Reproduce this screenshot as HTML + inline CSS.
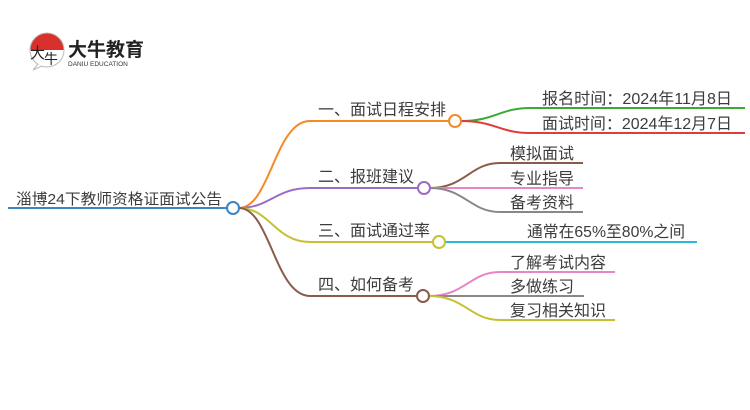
<!DOCTYPE html>
<html><head><meta charset="utf-8"><style>
html,body{margin:0;padding:0;background:#fff;width:750px;height:410px;overflow:hidden}
svg text{font-family:"Liberation Sans","Noto Sans CJK SC",sans-serif;font-size:16px;fill:#3c3c3c}
</style></head><body>
<svg width="750" height="410" viewBox="0 0 750 410" xmlns="http://www.w3.org/2000/svg">
<g>
<path d="M30 50 A17 17 0 0 1 64 50 Z" fill="#d9302c"/>
<circle cx="47" cy="50" r="17" fill="none" stroke="#bbb" stroke-width="1"/>
<path d="M38 64 L33 70 L42 66" fill="#fff" stroke="#bbb" stroke-width="1"/>
<text x="30" y="58" style="font-size:15px;fill:#222">大</text>
<text x="44" y="64" style="font-size:14px;fill:#222">牛</text>
<text x="68" y="56" style="font-size:19px;font-weight:bold;fill:#222">大牛教育</text>
<text x="68" y="66" style="font-size:6.5px;fill:#333">DANIU EDUCATION</text>
</g>
<g fill="none" stroke-width="2">
<path d="M8 208 L227 208" stroke="#3a86c4"/>
<path d="M239 208 C270 208 275 121 310 121 L449 121" stroke="#f58a24"/>
<path d="M461 121 C495 121 500 108 530 108 L745 108" stroke="#3aaa35"/>
<path d="M461 121 C495 121 500 133 530 133 L745 133" stroke="#e03c3c"/>
<path d="M239 208 C270 208 275 188 310 188 L418 188" stroke="#9c6bc8"/>
<path d="M430 188 C465 188 470 163 500 163 L583 163" stroke="#8b5a4a"/>
<path d="M430 188 L583 188" stroke="#e884c8"/>
<path d="M430 188 C465 188 470 212 500 212 L583 212" stroke="#888"/>
<path d="M239 208 C270 208 275 242 310 242 L433 242" stroke="#c4c232"/>
<path d="M445 242 L697 242" stroke="#28bcd4"/>
<path d="M239 208 C270 208 275 296 310 296 L417 296" stroke="#8b5a4a"/>
<path d="M429 296 C465 296 470 272 500 272 L615 272" stroke="#e884c8"/>
<path d="M429 296 L584 296" stroke="#888"/>
<path d="M429 296 C465 296 470 320 500 320 L615 320" stroke="#c4c232"/>
</g>
<g fill="#fff" stroke-width="2">
<circle cx="233" cy="208" r="6" stroke="#3a86c4"/>
<circle cx="455" cy="121" r="6" stroke="#f58a24"/>
<circle cx="424" cy="188" r="6" stroke="#9c6bc8"/>
<circle cx="439" cy="242" r="6" stroke="#c4c232"/>
<circle cx="423" cy="296" r="6" stroke="#8b5a4a"/>
</g>
<text x="16" y="204" textLength="206" lengthAdjust="spacingAndGlyphs" style="font-size:15px">淄博24下教师资格证面试公告</text>
<text x="318" y="115">一、面试日程安排</text>
<text x="318" y="182">二、报班建议</text>
<text x="318" y="236">三、面试通过率</text>
<text x="318" y="290">四、如何备考</text>
<text x="542" y="104" textLength="190" lengthAdjust="spacingAndGlyphs">报名时间：2024年11月8日</text>
<text x="542" y="129" textLength="190" lengthAdjust="spacingAndGlyphs">面试时间：2024年12月7日</text>
<text x="510" y="159">模拟面试</text>
<text x="510" y="184">专业指导</text>
<text x="510" y="208">备考资料</text>
<text x="527" y="237" textLength="158" lengthAdjust="spacingAndGlyphs">通常在65%至80%之间</text>
<text x="510" y="268">了解考试内容</text>
<text x="510" y="292">多做练习</text>
<text x="510" y="316">复习相关知识</text>
</svg>
</body></html>
